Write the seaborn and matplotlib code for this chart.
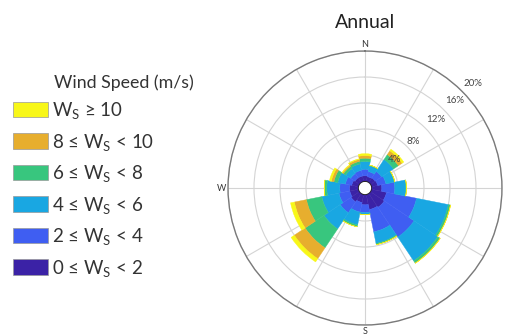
import numpy as np
import matplotlib
matplotlib.use("Agg")
import matplotlib.pyplot as plt
from matplotlib.patches import Patch
import seaborn as sns

# ---- data -------------------------------------------------------------
directions = ['N', 'NNE', 'NE', 'ENE', 'E', 'ESE', 'SE', 'SSE',
              'S', 'SSW', 'SW', 'WSW', 'W', 'WNW', 'NW', 'NNW']
bearings = [0, 22.5, 45, 67.5, 90, 112.5, 135, 157.5,
            180, 202.5, 225, 247.5, 270, 292.5, 315, 337.5]

ws_0_2 = [0.8, 0.7, 0.8, 0.9, 1.5, 2.3, 2.5, 2.3, 1.5, 1.2, 1.5, 1.3, 1.3, 1.0, 0.8, 0.8]
ws_2_4 = [1.0, 0.8, 1.2, 1.3, 2.0, 4.7, 5.5, 3.5, 1.2, 1.5, 2.0, 1.7, 1.5, 1.0, 0.8, 0.9]
ws_4_6 = [1.2, 0.9, 2.2, 1.3, 1.7, 5.0, 4.4, 1.8, 0.3, 2.0, 3.0, 2.7, 2.0, 1.2, 0.9, 1.0]
ws_6_8 = [0.5, 0.1, 0.9, 0.1, 0.1, 0.3, 0.4, 0.2, 0.0, 0.3, 3.5, 2.4, 0.4, 0.6, 0.4, 0.4]
ws_8_10 = [0.4, 0.0, 0.7, 0.0, 0.0, 0.05, 0.05, 0.0, 0.0, 0.0, 2.0, 1.9, 0.0, 0.4, 0.2, 0.3]
ws_10 = [0.3, 0.0, 0.3, 0.0, 0.0, 0.0, 0.0, 0.0, 0.0, 0.0, 0.6, 0.6, 0.0, 0.3, 0.1, 0.1]

classes = [ws_0_2, ws_2_4, ws_4_6, ws_6_8, ws_8_10, ws_10]
class_labels = ['0 ≤ W$_\\mathregular{S}$ < 2', '2 ≤ W$_\\mathregular{S}$ < 4',
                '4 ≤ W$_\\mathregular{S}$ < 6', '6 ≤ W$_\\mathregular{S}$ < 8',
                '8 ≤ W$_\\mathregular{S}$ < 10', 'W$_\\mathregular{S}$ ≥ 10']
class_colors = ['#3b22a6', '#3f5ef2', '#19a7e2', '#38c67e', '#e7ae2e', '#f8f718']

ring_values = [4, 8, 12, 16, 20]
ring_labels = ['4%', '8%', '12%', '16%', '20%']
ring_label_r = [5.3, 9.3, 14.0, 18.2, 22.0]

# ---- style ------------------------------------------------------------
sns.set_theme(style='white')
plt.rcParams['font.family'] = ['Lato', 'DejaVu Sans']
plt.rcParams['mathtext.fontset'] = 'custom'
plt.rcParams['mathtext.rm'] = 'Lato'
plt.rcParams['mathtext.it'] = 'Lato:italic'

fig = plt.figure(figsize=(5.07, 3.36), dpi=100)
ax = fig.add_axes([0.4497, 0.0327, 0.5404, 0.8155], projection='polar')
ax.set_theta_zero_location('N')
ax.set_theta_direction(-1)

theta = np.deg2rad(bearings)
width = 2 * np.pi / len(bearings)
bottom = np.zeros(len(bearings))
for vals, col in zip(classes, class_colors):
    v = np.asarray(vals)
    ax.bar(theta, v, width=width, bottom=bottom, color=col,
           edgecolor=col, linewidth=0.3, zorder=3)
    bottom = bottom + v

ax.set_ylim(0, 20)
ax.set_rorigin(-20 * 7 / 130)
ax.set_yticks(ring_values)
ax.set_yticklabels([])
ax.set_xticks(np.deg2rad(np.arange(0, 360, 30)))
ax.set_xticklabels([])
ax.grid(True, color='#d4d4d4', linewidth=0.8, zorder=1)
ax.spines['polar'].set_color('#7a7a7a')
ax.spines['polar'].set_linewidth(1.0)

for r, lab in zip(ring_label_r, ring_labels):
    ax.text(np.deg2rad(46), r, lab, fontsize=7, color='#444444',
            ha='center', va='center', zorder=5)

for ang, lab in zip([0, 90, 180, 270], ['N', 'E', 'S', 'W']):
    ax.text(np.deg2rad(ang), 21.0, lab, fontsize=6.5, color='#333333',
            ha='center', va='center', zorder=5, clip_on=False)

fig.text(0.72, 0.932, 'Annual', fontsize=14, color='#222222',
         ha='center', va='center')

fig.text(0.2436, 0.753, 'Wind Speed (m/s)', fontsize=12.8, color='#333333',
         ha='center', va='center')

handles = [Patch(facecolor=c, edgecolor='#999999', linewidth=0.5) for c in class_colors][::-1]
leg = fig.legend(handles, class_labels[::-1], loc='upper left',
                 bbox_to_anchor=(0.0256, 0.702), frameon=False,
                 fontsize=13.5, borderpad=0.0,
                 handlelength=1.87, handleheight=0.9, handletextpad=0.2,
                 labelspacing=0.56, borderaxespad=0.0)
for t in leg.get_texts():
    t.set_color('#333333')

fig.savefig('out.png', dpi=100)
